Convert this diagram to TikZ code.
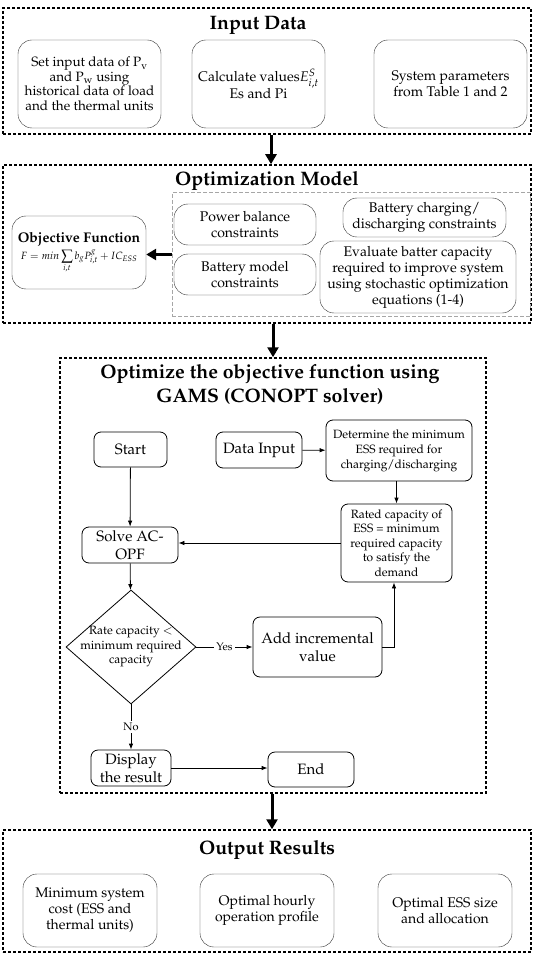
\documentclass[tikz,border=0pt]{standalone}
\usepackage[T1]{fontenc}
\usepackage{mathpazo}
\usetikzlibrary{shapes.geometric}
\usetikzlibrary{arrows.meta}
\tikzset{
    stage/.style = {
        draw, line width=1.5pt,
        dash pattern=on 3pt off 2pt,
        inner sep=0pt,
    },
    group/.style = {
        draw=gray!70, line width=1pt,
        dash pattern=on 4pt off 2pt,
        inner sep=0pt,
    },
    infobox/.style = {
        draw=black!80, rounded corners=14pt,
        align=center, inner sep=1pt,
        font=\fontsize{14}{16}\selectfont,
    },
    flowbox/.style = {
        draw, rounded corners=7pt, line width=0.8pt,
        align=center, inner sep=1pt,
    },
    decision/.style = {
        draw, diamond, inner sep=0pt, line width=0.8pt,
    },
    heading/.style = {
        font=\fontsize{19.5}{24}\selectfont\bfseries,
        align=center,
    },
    bigarrow/.style = {
        line width=3pt,
        -{Triangle[width=11pt, length=10pt]},
    },
    flowarrow/.style = {
        line width=0.8pt,
        -{Latex[length=6pt, width=4.5pt]},
    },
}

\begin{document}
\begin{tikzpicture}[x=1pt, y=-1pt]
  \useasboundingbox (0,0) rectangle (534,957);

  % Input data
  \node[stage, minimum width=528pt, minimum height=126pt] (inp) at (267,71) {};
  \node[heading] at (258,25) {Input Data};
  \node[infobox, minimum width=143pt, minimum height=88pt, font=\fontsize{13.5}{14.5}\selectfont] (setdata) at (89.5,84)
    {Set input data of P\textsubscript{v}\\and P\textsubscript{w} using\\historical data of load\\and the thermal units};
  \node[infobox, minimum width=133pt, minimum height=88pt] (calcval) at (258.5,84)
    {Calculate values$E^{S}_{i,t}$\\Es and Pi};
  \node[infobox, minimum width=153pt, minimum height=88pt] (syspar) at (450.5,84)
    {System parameters\\from Table 1 and 2};

  % Optimization model
  \node[stage, minimum width=528pt, minimum height=158pt] (opt) at (267,244) {};
  \node[heading] at (267,181) {Optimization Model};
  \node[group, minimum width=358pt, minimum height=123pt] (cons) at (351,254.5) {};
  \node[infobox, minimum width=134pt, minimum height=73pt] (objfun) at (79,252.5)
    {\textbf{Objective Function}\\[1pt]
     {\fontsize{10.5}{11}\selectfont$\displaystyle F = min\sum_{i,t} b_g P^{g}_{i,t} + IC_{ESS}$}};
  \node[infobox, minimum width=142pt, minimum height=41pt] (powbal) at (245,224.5)
    {Power balance\\constraints};
  \node[infobox, minimum width=142pt, minimum height=41pt] (batmod) at (245,274.5)
    {Battery model\\constraints};
  \node[infobox, minimum width=163pt, minimum height=39pt] (batchg) at (424.5,217.5)
    {Battery charging/\\discharging constraints};
  \node[infobox, minimum width=196pt, minimum height=72pt] (evalcap) at (418,277)
    {Evaluate batter capacity\\required to improve system\\using stochastic optimization\\equations (1-4)};

  % GAMS solver
  \node[stage, minimum width=426pt, minimum height=435pt] (gams) at (273,575.5) {};
  \node[heading] at (270,385) {Optimize the objective function using\\GAMS (CONOPT solver)};
  \node[flowbox, minimum width=73pt, minimum height=35pt, font=\fontsize{15}{17}\selectfont] (start) at (130.5,449.5) {Start};
  \node[flowbox, minimum width=86pt, minimum height=36pt, font=\fontsize{15}{17}\selectfont] (datain) at (259,450) {Data Input};
  \node[flowbox, minimum width=146pt, minimum height=61pt, font=\fontsize{12}{15}\selectfont] (determine) at (399,450.5)
    {Determine the minimum\\ESS required for\\charging/discharging};
  \node[flowbox, minimum width=111pt, minimum height=78pt, font=\fontsize{12}{14.5}\selectfont] (rated) at (396.5,543)
    {Rated capacity of\\ESS = minimum\\required capacity\\to satisfy the\\demand};
  \node[flowbox, minimum width=96pt, minimum height=36pt, font=\fontsize{15}{17.5}\selectfont] (solve) at (130,545)
    {Solve AC-\\OPF};
  \node[decision, minimum width=130pt, minimum height=114pt,
    label={[align=center, font=\fontsize{12}{14.5}\selectfont]center:Rate capacity $<$\\minimum required\\capacity}] (rate) at (131,647) {};
  \node[flowbox, minimum width=129pt, minimum height=60pt, font=\fontsize{15}{18.5}\selectfont] (addinc) at (317.5,647)
    {Add incremental\\value};
  \node[flowbox, minimum width=80pt, minimum height=36pt, font=\fontsize{15}{17.5}\selectfont] (display) at (131,768)
    {Display\\the result};
  \node[flowbox, minimum width=86pt, minimum height=35pt, font=\fontsize{15}{17}\selectfont] (finish) at (311,769.5) {End};

  \draw[flowarrow] (start) -- (solve);
  \draw[flowarrow] (datain) -- (determine);
  \draw[flowarrow] (rated.north |- determine.south) -- (rated.north);
  \draw[flowarrow] (rated.west) -- (rated.west -| solve.east);
  \draw[flowarrow] (solve) -- (rate);
  \draw[flowarrow] (rate.east) -- node[fill=white, inner sep=2pt, font=\fontsize{11}{13}\selectfont]{Yes} (addinc.west);
  \draw[flowarrow] (addinc.east) -| ([xshift=-2.5pt]rated.south);
  \draw[flowarrow] (rate.south) -- node[fill=white, inner sep=2pt, font=\fontsize{11}{13}\selectfont]{No} (display.north);
  \draw[flowarrow] (display.east) -- (display.east -| finish.west);

  % Output results
  \node[stage, minimum width=528pt, minimum height=122pt] (out) at (267,891) {};
  \node[heading] at (267,850) {Output Results};
  \node[infobox, minimum width=134pt, minimum height=73pt] (mincost) at (90,910.5)
    {Minimum system\\cost (ESS and\\thermal units)};
  \node[infobox, minimum width=134pt, minimum height=73pt] (hourly) at (267,910.5)
    {Optimal hourly\\operation profile};
  \node[infobox, minimum width=134pt, minimum height=73pt] (esssize) at (445,910.5)
    {Optimal ESS size\\and allocation};

  % Stage links
  \draw[bigarrow] ([xshift=4pt]inp.south) -- ([xshift=4pt]opt.north);
  \draw[bigarrow] ([xshift=6pt]opt.south) -- ([xshift=6pt]opt.south |- gams.north);
  \draw[bigarrow] ([xshift=5pt]out.north |- gams.south) -- ([xshift=5pt]out.north);
  \draw[bigarrow] (cons.west) -- (cons.west -| objfun.east);
\end{tikzpicture}
\end{document}
